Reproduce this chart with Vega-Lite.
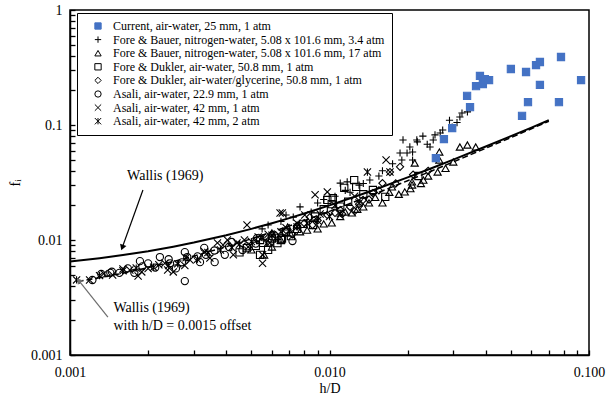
{
  "$schema": "https://vega.github.io/schema/vega-lite/v6.json",
  "width": 519,
  "height": 345,
  "autosize": {"type": "none"},
  "padding": {"left": 70, "top": 10, "right": 25, "bottom": 50},
  "background": "white",
  "config": {
    "view": {"stroke": "black", "strokeWidth": 1.5},
    "font": "Liberation Serif",
    "axis": {
      "labelFont": "Liberation Serif", "titleFont": "Liberation Serif",
      "labelFontSize": 14, "titleFontSize": 14, "titleFontWeight": "normal",
      "domainColor": "black", "domainWidth": 1.5, "tickColor": "black", "tickWidth": 1.3,
      "labelColor": "black", "titleColor": "black", "grid": false,
      "labelOverlap": false, "labelFlush": false, "labelBound": false
    }
  },
  "datasets": {
    "pts": [
      {"x": 0.0217, "f": 0.0741, "s": "fb34"}, {"x": 0.0204, "f": 0.0644, "s": "fb34"}, {"x": 0.0199, "f": 0.0571, "s": "fb34"},
      {"x": 0.0251, "f": 0.0741, "s": "fb34"}, {"x": 0.0244, "f": 0.0644, "s": "fb34"}, {"x": 0.0273, "f": 0.0905, "s": "fb34"},
      {"x": 0.0297, "f": 0.096, "s": "fb34"}, {"x": 0.0318, "f": 0.1174, "s": "fb34"}, {"x": 0.0324, "f": 0.1271, "s": "fb34"},
      {"x": 0.0348, "f": 0.1405, "s": "fb34"}, {"x": 0.0267, "f": 0.0852, "s": "fb34"}, {"x": 0.019, "f": 0.0496, "s": "fb34"},
      {"x": 0.0209, "f": 0.0496, "s": "fb34"}, {"x": 0.011, "f": 0.0312, "s": "fb34"}, {"x": 0.0117, "f": 0.032, "s": "fb34"},
      {"x": 0.0192, "f": 0.0741, "s": "fb34"}, {"x": 0.0209, "f": 0.0582, "s": "fb34"}, {"x": 0.0218, "f": 0.0713, "s": "fb34"},
      {"x": 0.0187, "f": 0.0571, "s": "fb34"}, {"x": 0.0143, "f": 0.0332, "s": "fb34"}, {"x": 0.0077, "f": 0.0194, "s": "fb34"},
      {"x": 0.00725, "f": 0.0158, "s": "fb34"}, {"x": 0.0055, "f": 0.0125, "s": "fb34"}, {"x": 0.0065, "f": 0.0145, "s": "fb34"},
      {"x": 0.009, "f": 0.021, "s": "fb34"}, {"x": 0.0105, "f": 0.024, "s": "fb34"}, {"x": 0.013, "f": 0.03, "s": "fb34"},
      {"x": 0.016, "f": 0.04, "s": "fb34"}, {"x": 0.0175, "f": 0.046, "s": "fb34"}, {"x": 0.0229, "f": 0.08, "s": "fb34"},
      {"x": 0.029, "f": 0.11, "s": "fb34"}, {"x": 0.034, "f": 0.13, "s": "fb34"}, {"x": 0.0085, "f": 0.0175, "s": "fb34"},
      {"x": 0.012, "f": 0.026, "s": "fb34"}, {"x": 0.0058, "f": 0.0135, "s": "fb34"}, {"x": 0.0068, "f": 0.0165, "s": "fb34"},
      {"x": 0.0095, "f": 0.0225, "s": "fb34"}, {"x": 0.0115, "f": 0.027, "s": "fb34"}, {"x": 0.0135, "f": 0.031, "s": "fb34"},
      {"x": 0.0155, "f": 0.036, "s": "fb34"}, {"x": 0.0238, "f": 0.068, "s": "fb34"}, {"x": 0.0255, "f": 0.082, "s": "fb34"},
      {"x": 0.031, "f": 0.105, "s": "fb34"},
      {"x": 0.0265, "f": 0.0582, "s": "fb17"}, {"x": 0.0318, "f": 0.0644, "s": "fb17"}, {"x": 0.034, "f": 0.067, "s": "fb17"},
      {"x": 0.0366, "f": 0.0644, "s": "fb17"}, {"x": 0.03, "f": 0.0477, "s": "fb17"}, {"x": 0.0261, "f": 0.039, "s": "fb17"},
      {"x": 0.023, "f": 0.0332, "s": "fb17"}, {"x": 0.0208, "f": 0.0301, "s": "fb17"}, {"x": 0.0265, "f": 0.0496, "s": "fb17"},
      {"x": 0.0213, "f": 0.0467, "s": "fb17"}, {"x": 0.0195, "f": 0.0262, "s": "fb17"}, {"x": 0.0208, "f": 0.032, "s": "fb17"},
      {"x": 0.0174, "f": 0.029, "s": "fb17"}, {"x": 0.0135, "f": 0.0194, "s": "fb17"}, {"x": 0.0122, "f": 0.0172, "s": "fb17"},
      {"x": 0.0102, "f": 0.0141, "s": "fb17"}, {"x": 0.0077, "f": 0.0118, "s": "fb17"}, {"x": 0.0075, "f": 0.0135, "s": "fb17"},
      {"x": 0.0069, "f": 0.013, "s": "fb17"}, {"x": 0.006, "f": 0.0115, "s": "fb17"}, {"x": 0.0058, "f": 0.0094, "s": "fb17"},
      {"x": 0.00705, "f": 0.0115, "s": "fb17"}, {"x": 0.0056, "f": 0.0074, "s": "fb17"}, {"x": 0.006, "f": 0.0087, "s": "fb17"},
      {"x": 0.009, "f": 0.0125, "s": "fb17"}, {"x": 0.011, "f": 0.016, "s": "fb17"}, {"x": 0.015, "f": 0.0235, "s": "fb17"},
      {"x": 0.016, "f": 0.021, "s": "fb17"}, {"x": 0.0185, "f": 0.025, "s": "fb17"}, {"x": 0.024, "f": 0.036, "s": "fb17"},
      {"x": 0.005, "f": 0.0082, "s": "fb17"}, {"x": 0.0065, "f": 0.01, "s": "fb17"}, {"x": 0.0082, "f": 0.0122, "s": "fb17"},
      {"x": 0.0095, "f": 0.0138, "s": "fb17"}, {"x": 0.0115, "f": 0.0175, "s": "fb17"}, {"x": 0.0128, "f": 0.0185, "s": "fb17"},
      {"x": 0.0142, "f": 0.021, "s": "fb17"}, {"x": 0.017, "f": 0.026, "s": "fb17"}, {"x": 0.0205, "f": 0.028, "s": "fb17"},
      {"x": 0.0225, "f": 0.031, "s": "fb17"}, {"x": 0.028, "f": 0.042, "s": "fb17"},
      {"x": 0.0054, "f": 0.00743, "s": "fda"}, {"x": 0.006, "f": 0.0103, "s": "fda"}, {"x": 0.00656, "f": 0.0103, "s": "fda"},
      {"x": 0.00555, "f": 0.00944, "s": "fda"}, {"x": 0.00981, "f": 0.0223, "s": "fda"}, {"x": 0.0103, "f": 0.0231, "s": "fda"},
      {"x": 0.0114, "f": 0.0284, "s": "fda"}, {"x": 0.01245, "f": 0.0332, "s": "fda"}, {"x": 0.0147, "f": 0.0272, "s": "fda"},
      {"x": 0.0054, "f": 0.01, "s": "fda"}, {"x": 0.0065, "f": 0.01, "s": "fda"}, {"x": 0.0164, "f": 0.0237, "s": "fda"},
      {"x": 0.00865, "f": 0.0135, "s": "fda"}, {"x": 0.01267, "f": 0.029, "s": "fda"}, {"x": 0.0045, "f": 0.0078, "s": "fda"},
      {"x": 0.0048, "f": 0.0085, "s": "fda"}, {"x": 0.0058, "f": 0.0082, "s": "fda"}, {"x": 0.0068, "f": 0.0118, "s": "fda"},
      {"x": 0.0075, "f": 0.0125, "s": "fda"}, {"x": 0.0088, "f": 0.016, "s": "fda"}, {"x": 0.011, "f": 0.0195, "s": "fda"},
      {"x": 0.0135, "f": 0.025, "s": "fda"}, {"x": 0.022, "f": 0.036, "s": "fda"}, {"x": 0.0095, "f": 0.0185, "s": "fda"},
      {"x": 0.0052, "f": 0.0089, "s": "fda"}, {"x": 0.0063, "f": 0.0094, "s": "fda"}, {"x": 0.0071, "f": 0.0108, "s": "fda"},
      {"x": 0.0079, "f": 0.0138, "s": "fda"}, {"x": 0.0102, "f": 0.0205, "s": "fda"}, {"x": 0.0118, "f": 0.0215, "s": "fda"},
      {"x": 0.011, "f": 0.0182, "s": "fdg"}, {"x": 0.012, "f": 0.0194, "s": "fdg"}, {"x": 0.01347, "f": 0.0223, "s": "fdg"},
      {"x": 0.0147, "f": 0.0256, "s": "fdg"}, {"x": 0.016, "f": 0.0312, "s": "fdg"}, {"x": 0.0171, "f": 0.039, "s": "fdg"},
      {"x": 0.0187, "f": 0.0433, "s": "fdg"}, {"x": 0.0098, "f": 0.0165, "s": "fdg"}, {"x": 0.0084, "f": 0.0158, "s": "fdg"},
      {"x": 0.0062, "f": 0.011, "s": "fdg"}, {"x": 0.0068, "f": 0.0122, "s": "fdg"}, {"x": 0.0075, "f": 0.0132, "s": "fdg"},
      {"x": 0.009, "f": 0.0148, "s": "fdg"}, {"x": 0.0105, "f": 0.0172, "s": "fdg"}, {"x": 0.013, "f": 0.0205, "s": "fdg"},
      {"x": 0.021, "f": 0.037, "s": "fdg"}, {"x": 0.024, "f": 0.04, "s": "fdg"}, {"x": 0.0155, "f": 0.027, "s": "fdg"},
      {"x": 0.008, "f": 0.014, "s": "fdg"}, {"x": 0.0058, "f": 0.0098, "s": "fdg"}, {"x": 0.0072, "f": 0.0112, "s": "fdg"},
      {"x": 0.0086, "f": 0.0135, "s": "fdg"}, {"x": 0.0112, "f": 0.0168, "s": "fdg"}, {"x": 0.0125, "f": 0.0178, "s": "fdg"},
      {"x": 0.0142, "f": 0.0225, "s": "fdg"}, {"x": 0.018, "f": 0.031, "s": "fdg"},
      {"x": 0.00122, "f": 0.00449, "s": "a229"}, {"x": 0.00132, "f": 0.00506, "s": "a229"}, {"x": 0.00143, "f": 0.00518, "s": "a229"},
      {"x": 0.00155, "f": 0.00518, "s": "a229"}, {"x": 0.00167, "f": 0.00566, "s": "a229"}, {"x": 0.00177, "f": 0.00518, "s": "a229"},
      {"x": 0.00186, "f": 0.00655, "s": "a229"}, {"x": 0.002, "f": 0.00627, "s": "a229"}, {"x": 0.00213, "f": 0.00576, "s": "a229"},
      {"x": 0.00222, "f": 0.00711, "s": "a229"}, {"x": 0.00243, "f": 0.00627, "s": "a229"}, {"x": 0.00256, "f": 0.00566, "s": "a229"},
      {"x": 0.00277, "f": 0.00439, "s": "a229"}, {"x": 0.00277, "f": 0.00784, "s": "a229"}, {"x": 0.00283, "f": 0.00711, "s": "a229"},
      {"x": 0.00329, "f": 0.00855, "s": "a229"}, {"x": 0.00334, "f": 0.00743, "s": "a229"}, {"x": 0.0042, "f": 0.00962, "s": "a229"},
      {"x": 0.00462, "f": 0.00818, "s": "a229"}, {"x": 0.00526, "f": 0.0104, "s": "a229"}, {"x": 0.0059, "f": 0.00944, "s": "a229"},
      {"x": 0.00317, "f": 0.00642, "s": "a229"}, {"x": 0.00395, "f": 0.00743, "s": "a229"}, {"x": 0.00361, "f": 0.00642, "s": "a229"},
      {"x": 0.0048, "f": 0.0088, "s": "a229"}, {"x": 0.0062, "f": 0.0105, "s": "a229"}, {"x": 0.0072, "f": 0.0098, "s": "a229"},
      {"x": 0.00145, "f": 0.0053, "s": "a229"}, {"x": 0.0019, "f": 0.0059, "s": "a229"}, {"x": 0.0024, "f": 0.0068, "s": "a229"},
      {"x": 0.0027, "f": 0.0064, "s": "a229"}, {"x": 0.0031, "f": 0.0072, "s": "a229"}, {"x": 0.0036, "f": 0.0081, "s": "a229"},
      {"x": 0.0041, "f": 0.0087, "s": "a229"}, {"x": 0.0052, "f": 0.0093, "s": "a229"},
      {"x": 0.00119, "f": 0.00449, "s": "a42"}, {"x": 0.00146, "f": 0.00497, "s": "a42"}, {"x": 0.00183, "f": 0.00486, "s": "a42"},
      {"x": 0.002, "f": 0.00566, "s": "a42"}, {"x": 0.00232, "f": 0.00627, "s": "a42"}, {"x": 0.0025, "f": 0.00528, "s": "a42"},
      {"x": 0.00277, "f": 0.00601, "s": "a42"}, {"x": 0.0017, "f": 0.00548, "s": "a42"}, {"x": 0.00189, "f": 0.00528, "s": "a42"},
      {"x": 0.00238, "f": 0.00548, "s": "a42"}, {"x": 0.00346, "f": 0.00696, "s": "a42"}, {"x": 0.00389, "f": 0.00904, "s": "a42"},
      {"x": 0.00426, "f": 0.00743, "s": "a42"}, {"x": 0.00486, "f": 0.00871, "s": "a42"}, {"x": 0.00531, "f": 0.01063, "s": "a42"},
      {"x": 0.00552, "f": 0.00743, "s": "a42"}, {"x": 0.00645, "f": 0.0172, "s": "a42"}, {"x": 0.00481, "f": 0.0135, "s": "a42"},
      {"x": 0.0037, "f": 0.00944, "s": "a42"}, {"x": 0.0047, "f": 0.01, "s": "a42"}, {"x": 0.00404, "f": 0.01, "s": "a42"},
      {"x": 0.00552, "f": 0.00627, "s": "a42"}, {"x": 0.00803, "f": 0.0165, "s": "a42"}, {"x": 0.0088, "f": 0.0247, "s": "a42"},
      {"x": 0.00981, "f": 0.0262, "s": "a42"}, {"x": 0.01652, "f": 0.0496, "s": "a42"}, {"x": 0.0171, "f": 0.039, "s": "a42"},
      {"x": 0.00658, "f": 0.0172, "s": "a42"}, {"x": 0.0075, "f": 0.014, "s": "a42"}, {"x": 0.0105, "f": 0.02, "s": "a42"},
      {"x": 0.00135, "f": 0.0051, "s": "a42"}, {"x": 0.0016, "f": 0.0056, "s": "a42"}, {"x": 0.0022, "f": 0.0061, "s": "a42"},
      {"x": 0.0029, "f": 0.0067, "s": "a42"}, {"x": 0.0033, "f": 0.0079, "s": "a42"}, {"x": 0.0044, "f": 0.0094, "s": "a42"},
      {"x": 0.0058, "f": 0.0112, "s": "a42"}, {"x": 0.0068, "f": 0.0128, "s": "a42"}, {"x": 0.0092, "f": 0.0168, "s": "a42"},
      {"x": 0.0125, "f": 0.024, "s": "a42"},
      {"x": 0.00106, "f": 0.0045, "s": "a42b"}, {"x": 0.0013, "f": 0.0049, "s": "a42b"}, {"x": 0.0016, "f": 0.0054, "s": "a42b"},
      {"x": 0.0021, "f": 0.0058, "s": "a42b"}, {"x": 0.0026, "f": 0.0062, "s": "a42b"}, {"x": 0.0031, "f": 0.0068, "s": "a42b"},
      {"x": 0.0038, "f": 0.0082, "s": "a42b"}, {"x": 0.0045, "f": 0.0092, "s": "a42b"}, {"x": 0.0055, "f": 0.0105, "s": "a42b"},
      {"x": 0.0065, "f": 0.0118, "s": "a42b"}, {"x": 0.0075, "f": 0.013, "s": "a42b"}, {"x": 0.009, "f": 0.0148, "s": "a42b"},
      {"x": 0.011, "f": 0.017, "s": "a42b"}, {"x": 0.013, "f": 0.021, "s": "a42b"}, {"x": 0.014, "f": 0.039, "s": "a42b"},
      {"x": 0.0034, "f": 0.0078, "s": "a42b"}, {"x": 0.005, "f": 0.0097, "s": "a42b"}, {"x": 0.0028, "f": 0.007, "s": "a42b"},
      {"x": 0.0018, "f": 0.0057, "s": "a42b"}, {"x": 0.0024, "f": 0.006, "s": "a42b"}, {"x": 0.0042, "f": 0.0086, "s": "a42b"},
      {"x": 0.006, "f": 0.011, "s": "a42b"}, {"x": 0.0082, "f": 0.014, "s": "a42b"}, {"x": 0.01, "f": 0.016, "s": "a42b"},
      {"x": 0.0257, "f": 0.0516, "s": "cur"}, {"x": 0.0276, "f": 0.0755, "s": "cur"}, {"x": 0.0297, "f": 0.0941, "s": "cur"},
      {"x": 0.0348, "f": 0.143, "s": "cur"}, {"x": 0.0339, "f": 0.179, "s": "cur"}, {"x": 0.0367, "f": 0.218, "s": "cur"},
      {"x": 0.038, "f": 0.267, "s": "cur"}, {"x": 0.039, "f": 0.227, "s": "cur"}, {"x": 0.0397, "f": 0.251, "s": "cur"},
      {"x": 0.0412, "f": 0.246, "s": "cur"}, {"x": 0.05, "f": 0.307, "s": "cur"}, {"x": 0.0572, "f": 0.289, "s": "cur"},
      {"x": 0.0552, "f": 0.12, "s": "cur"}, {"x": 0.0582, "f": 0.158, "s": "cur"}, {"x": 0.0625, "f": 0.332, "s": "cur"},
      {"x": 0.0647, "f": 0.353, "s": "cur"}, {"x": 0.0647, "f": 0.223, "s": "cur"}, {"x": 0.078, "f": 0.39, "s": "cur"},
      {"x": 0.0766, "f": 0.158, "s": "cur"}, {"x": 0.0932, "f": 0.246, "s": "cur"}
    ],
    "wallis": [
      {"x": 0.001, "f": 0.0065}, {"x": 0.0013, "f": 0.00695}, {"x": 0.0016, "f": 0.0074}, {"x": 0.002, "f": 0.008},
      {"x": 0.0025, "f": 0.00875}, {"x": 0.003, "f": 0.0095}, {"x": 0.004, "f": 0.011}, {"x": 0.005, "f": 0.0125},
      {"x": 0.006, "f": 0.014}, {"x": 0.007, "f": 0.0155}, {"x": 0.008, "f": 0.017}, {"x": 0.01, "f": 0.02},
      {"x": 0.0125, "f": 0.02375}, {"x": 0.015, "f": 0.0275}, {"x": 0.02, "f": 0.035}, {"x": 0.025, "f": 0.0425},
      {"x": 0.03, "f": 0.05}, {"x": 0.04, "f": 0.065}, {"x": 0.05, "f": 0.08}, {"x": 0.06, "f": 0.095}, {"x": 0.07, "f": 0.11}
    ],
    "offset": [
      {"x": 0.00107, "f": 0.004355}, {"x": 0.0013, "f": 0.0047}, {"x": 0.0016, "f": 0.00515}, {"x": 0.002, "f": 0.00575},
      {"x": 0.0025, "f": 0.0065}, {"x": 0.003, "f": 0.00725}, {"x": 0.004, "f": 0.00875}, {"x": 0.005, "f": 0.01025},
      {"x": 0.006, "f": 0.01175}, {"x": 0.007, "f": 0.01325}, {"x": 0.008, "f": 0.01475}, {"x": 0.01, "f": 0.01775},
      {"x": 0.0125, "f": 0.0215}, {"x": 0.015, "f": 0.02525}, {"x": 0.02, "f": 0.03275}, {"x": 0.025, "f": 0.04025},
      {"x": 0.03, "f": 0.04775}, {"x": 0.04, "f": 0.06275}, {"x": 0.05, "f": 0.07775}, {"x": 0.06, "f": 0.09275}, {"x": 0.07, "f": 0.10775}
    ],
    "notes": [
      {"x": 0.00166, "f": 0.036, "t": "Wallis (1969)"},
      {"x": 0.00147, "f": 0.00256, "t": "Wallis (1969)"},
      {"x": 0.00147, "f": 0.00179, "t": "with h/D = 0.0015 offset"}
    ],
    "arrow1": [{"x": 0.00191, "f": 0.0272, "x2": 0.00159, "f2": 0.0086}],
    "head1": [{"x": 0.00159, "f": 0.0086}],
    "arrow2": [{"x": 0.0014, "f": 0.00214, "x2": 0.00108, "f2": 0.00445}],
    "head2": [{"x": 0.00108, "f": 0.00445}]
  },
  "encoding": {
    "x": {
      "field": "x", "type": "quantitative",
      "scale": {"type": "log", "domain": [0.001, 0.1], "nice": false},
      "axis": {
        "title": "h/D",
        "values": [0.001, 0.002, 0.003, 0.004, 0.005, 0.006, 0.007, 0.008, 0.009, 0.01, 0.02, 0.03, 0.04, 0.05, 0.06, 0.07, 0.08, 0.09, 0.1],
        "labelExpr": "abs(log(datum.value)/LN10 - round(log(datum.value)/LN10)) < 0.01 ? format(datum.value, '.3f') : ''",
        "tickSize": -5,
        "labelPadding": 15,
        "titlePadding": 2
      }
    },
    "y": {
      "field": "f", "type": "quantitative",
      "scale": {"type": "log", "domain": [0.001, 1], "nice": false},
      "axis": {
        "title": "fᵢ",
        "values": [0.001, 0.002, 0.003, 0.004, 0.005, 0.006, 0.007, 0.008, 0.009, 0.01, 0.02, 0.03, 0.04, 0.05, 0.06, 0.07, 0.08, 0.09, 0.1, 0.2, 0.3, 0.4, 0.5, 0.6, 0.7, 0.8, 0.9, 1],
        "labelExpr": "abs(log(datum.value)/LN10 - round(log(datum.value)/LN10)) < 0.01 ? format(datum.value, '~g') : ''",
        "tickSize": -5,
        "labelPadding": 13,
        "titlePadding": 8
      }
    }
  },
  "layer": [
    {
      "data": {"name": "wallis"},
      "mark": {"type": "line", "color": "black", "strokeWidth": 2},
      "encoding": {}
    },
    {
      "data": {"name": "offset"},
      "mark": {"type": "line", "color": "black", "strokeWidth": 1.5, "strokeDash": [6, 3]},
      "encoding": {}
    },
    {
      "data": {"name": "pts"},
      "mark": {"type": "point", "size": 52, "strokeWidth": 1.1, "opacity": 1},
      "encoding": {
        "shape": {
          "field": "s", "type": "nominal",
          "scale": {
            "domain": ["cur", "fb34", "fb17", "fda", "fdg", "a229", "a42", "a42b"],
            "range": ["square", "M-1,0L1,0M0,-1L0,1", "triangle-up", "square", "diamond", "circle", "M-1,-1L1,1M-1,1L1,-1", "M-1,-1L1,1M-1,1L1,-1M0,-1L0,1"]
          },
          "legend": {
            "title": null, "orient": "none", "legendX": 7, "legendY": 3,
            "padding": 7, "symbolOffset": 8, "labelOffset": 9,
            "labelFont": "Liberation Serif", "labelFontSize": 12, "labelColor": "black", "labelLimit": 0,
            "rowPadding": 1.6, "strokeColor": "black", "fillColor": "white",
            "symbolSize": 40, "symbolStrokeWidth": 1,
            "labelExpr": "{'cur': 'Current, air-water, 25 mm, 1 atm', 'fb34': 'Fore & Bauer, nitrogen-water, 5.08 x 101.6 mm, 3.4 atm', 'fb17': 'Fore & Bauer, nitrogen-water, 5.08 x 101.6 mm, 17 atm', 'fda': 'Fore & Dukler, air-water, 50.8 mm, 1 atm', 'fdg': 'Fore & Dukler, air-water/glycerine, 50.8 mm, 1 atm', 'a229': 'Asali, air-water, 22.9 mm, 1 atm', 'a42': 'Asali, air-water, 42 mm, 1 atm', 'a42b': 'Asali, air-water, 42 mm, 2 atm'}[datum.label]",
            "encode": {"legend": {"update": {"strokeWidth": {"value": 2.5}}}}
          }
        },
        "stroke": {
          "field": "s", "type": "nominal",
          "scale": {
            "domain": ["cur", "fb34", "fb17", "fda", "fdg", "a229", "a42", "a42b"],
            "range": ["#4472C4", "black", "black", "black", "black", "black", "black", "black"]
          }
        },
        "fill": {
          "field": "s", "type": "nominal",
          "scale": {
            "domain": ["cur", "fb34", "fb17", "fda", "fdg", "a229", "a42", "a42b"],
            "range": ["#4472C4", "transparent", "transparent", "transparent", "transparent", "transparent", "transparent", "transparent"]
          }
        }
      }
    },
    {
      "data": {"name": "notes"},
      "mark": {"type": "text", "align": "left", "baseline": "middle", "font": "Liberation Serif", "fontSize": 14, "color": "black"},
      "encoding": {"text": {"field": "t", "type": "nominal"}}
    },
    {
      "data": {"name": "arrow1"},
      "mark": {"type": "rule", "color": "black", "strokeWidth": 1.2},
      "encoding": {"x2": {"field": "x2"}, "y2": {"field": "f2"}}
    },
    {
      "data": {"name": "head1"},
      "mark": {"type": "point", "shape": "triangle-up", "filled": true, "color": "black", "size": 45, "angle": 200, "opacity": 1},
      "encoding": {}
    },
    {
      "data": {"name": "arrow2"},
      "mark": {"type": "rule", "color": "#6d6d6d", "strokeWidth": 1.2},
      "encoding": {"x2": {"field": "x2"}, "y2": {"field": "f2"}}
    },
    {
      "data": {"name": "head2"},
      "mark": {"type": "point", "shape": "triangle-up", "filled": true, "color": "#6d6d6d", "size": 45, "angle": 321, "opacity": 1},
      "encoding": {}
    }
  ]
}
